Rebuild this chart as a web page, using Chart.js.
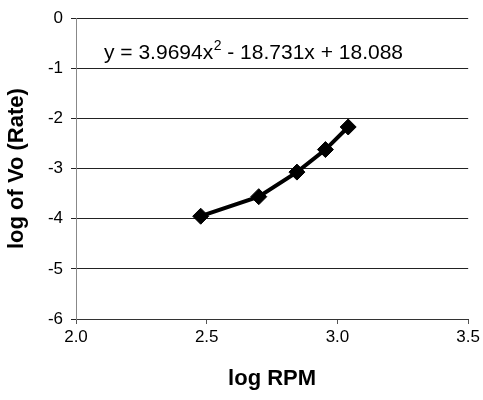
<!DOCTYPE html>
<html>
<head>
<meta charset="utf-8">
<script src="https://cdn.jsdelivr.net/npm/chart.js@4/dist/chart.umd.min.js"></script>
<style>
  html, body { margin: 0; padding: 0; background: #fff; }
  #wrap { width: 483px; height: 400px; position: relative; }
</style>
</head>
<body>
<div id="wrap"><canvas id="c" width="483" height="400"></canvas></div>
<script>
// Measured stirring speeds (log RPM) and initial rates (log Vo)
const logRPM  = [2.477, 2.699, 2.845, 2.954, 3.041];
const logRate = [-3.95, -3.56, -3.07, -2.62, -2.17];

// Axis ticks
const xTicks = [2.0, 2.5, 3.0, 3.5];
const yTicks = [0, -1, -2, -3, -4, -5, -6];

// Quadratic trendline equation shown on the plot
const eqBefore = 'y = 3.9694x';
const eqSup = '2';
const eqAfter = ' - 18.731x + 18.088';

const FONT = '"Liberation Sans", Arial, Helvetica, sans-serif';

const equationLabel = {
  id: 'equationLabel',
  afterDatasetsDraw(chart) {
    const ctx = chart.ctx;
    ctx.save();
    ctx.fillStyle = '#000';
    ctx.textBaseline = 'alphabetic';
    ctx.textAlign = 'left';
    let x = 104, y = 59;
    ctx.font = '21px ' + FONT;
    ctx.fillText(eqBefore, x, y);
    x += ctx.measureText(eqBefore).width;
    ctx.font = '14px ' + FONT;
    ctx.fillText(eqSup, x + 0.5, y - 9);
    x += ctx.measureText(eqSup).width + 0.5;
    ctx.font = '21px ' + FONT;
    ctx.fillText(eqAfter, x, y);
    ctx.restore();
  }
};

new Chart(document.getElementById('c'), {
  type: 'scatter',
  data: {
    datasets: [{
      data: logRPM.map((v, i) => ({ x: v, y: logRate[i] })),
      showLine: true,
      borderColor: '#000',
      backgroundColor: '#000',
      borderWidth: 4,
      pointStyle: 'rectRot',
      pointRadius: 8,
      pointHoverRadius: 8,
      pointBorderWidth: 1,
      tension: 0
    }]
  },
  options: {
    responsive: false,
    animation: false,
    devicePixelRatio: 1,
    plugins: { legend: { display: false }, tooltip: { enabled: false } },
    layout: { padding: { left: 0, right: 13, top: 17, bottom: 0 } },
    scales: {
      x: {
        type: 'linear',
        min: xTicks[0],
        max: xTicks[xTicks.length - 1],
        afterBuildTicks(scale) { scale.ticks = xTicks.map(v => ({ value: v })); },
        afterFit(scale) { scale.height = 81; },
        grid: {
          drawOnChartArea: false,
          drawTicks: true,
          tickLength: 5,
          color: '#555'
        },
        border: { display: true, color: '#333', width: 1 },
        ticks: {
          color: '#000',
          font: { family: FONT, size: 17 },
          padding: 3,
          callback: v => Number(v).toFixed(1)
        },
        title: {
          display: true,
          text: 'log RPM',
          color: '#000',
          font: { family: FONT, size: 22, weight: 'bold' },
          padding: { top: 0, bottom: 8 }
        }
      },
      y: {
        type: 'linear',
        min: -6,
        max: 0,
        afterBuildTicks(scale) { scale.ticks = yTicks.map(v => ({ value: v })); },
        afterFit(scale) { scale.width = 76; },
        grid: {
          drawOnChartArea: true,
          drawTicks: true,
          tickLength: 5,
          color: '#222',
          lineWidth: 1
        },
        border: { display: true, color: '#888', width: 1 },
        ticks: {
          color: '#000',
          font: { family: FONT, size: 17 },
          padding: 8
        },
        title: {
          display: true,
          text: 'log of Vo (Rate)',
          color: '#000',
          font: { family: FONT, size: 22, weight: 'bold' },
          padding: { top: 4, bottom: 0 }
        }
      }
    }
  },
  plugins: [equationLabel]
});
</script>
</body>
</html>
